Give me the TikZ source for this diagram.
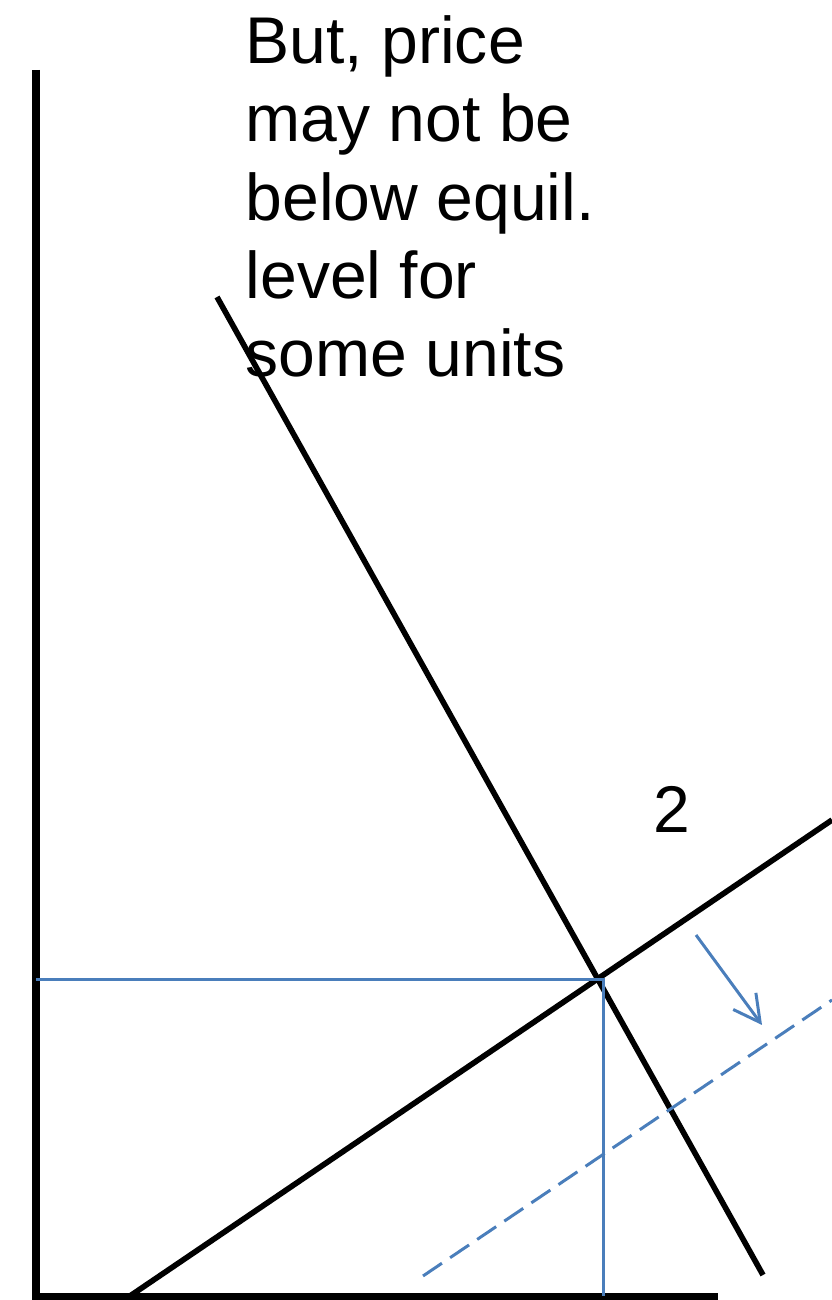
\documentclass[tikz,border=0pt]{standalone}
\usepackage{fontspec}
\setmainfont{Liberation Sans}
\usetikzlibrary{arrows.meta}

\definecolor{lineblue}{RGB}{74,126,187}

\begin{document}
\begin{tikzpicture}[
  axis/.style={
    line width=2.2pt, black
  },
  curve/.style={
    line width=1.6pt, black
  },
  guide/.style={
    line width=0.85pt, lineblue
  },
  shifted/.style={
    line width=0.85pt, lineblue, dash pattern=on 6.5pt off 2.8pt
  },
  shiftarrow/.style={
    -{Straight Barb[length=7.5pt,width=8pt]},
    line width=0.85pt, lineblue
  },
  bigtext/.style={
    font=\fontsize{18.8pt}{22.3pt}\selectfont, inner sep=0pt
  }
]

\useasboundingbox (0,0) rectangle (8.32,13);

% ==================== POINTS ====================

\coordinate (origin) at (0.36,0.035);
\coordinate (ytop)   at (0.36,12.30);
\coordinate (xend)   at (7.18,0.035);

\coordinate (dtop) at (2.17,10.03);
\coordinate (dbot) at (7.63,0.25);

\coordinate (sbot) at (1.27,0.02);
\coordinate (stop) at (8.32,4.80);

\coordinate (eq)    at (6.03,3.20);
\coordinate (eqy)   at (0.36,3.20);
\coordinate (eqx)   at (6.03,0.035);

\coordinate (nsbot) at (4.23,0.24);
\coordinate (nstop) at (8.32,3.00);

\coordinate (arrfrom) at (6.96,3.65);
\coordinate (arrto)   at (7.62,2.75);

% ==================== AXES ====================

\draw [axis] (ytop) -- (origin) -- (xend);

% ==================== CURVES ====================

% demand
\draw [curve] (dtop) -- (dbot);

% supply
\draw [curve] (sbot) -- (stop);

% equilibrium guides
\draw [guide] (eqy) -- (eq) -- (eqx);

% shifted supply
\draw [shifted] (nsbot) -- (nstop);

% shift
\draw [shiftarrow] (arrfrom) -- (arrto);

% ==================== LABELS ====================

\node (note) [bigtext, anchor=base west, align=left] at (2.45,9.23) {
    But, price\\
    may not be\\
    below equil.\\
    level for\\
    some units
};

\node (lbl2) [bigtext, anchor=base] at (6.72,4.67) {2};

\end{tikzpicture}
\end{document}
